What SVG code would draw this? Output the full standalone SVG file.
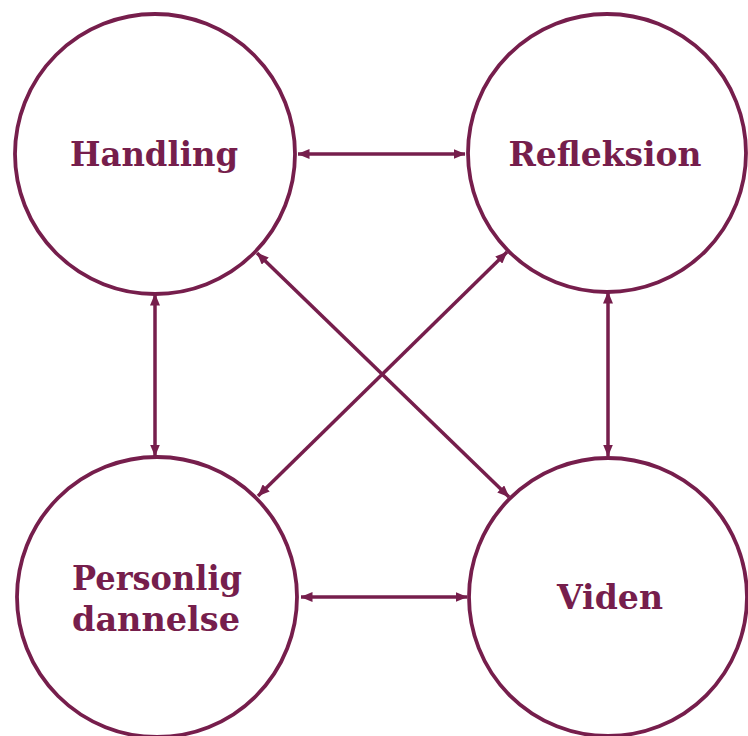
<svg xmlns="http://www.w3.org/2000/svg" width="748" height="736" viewBox="0 0 748 736">
<style>
.node{fill:#ffffff;stroke:#761e4c;stroke-width:3.8}
.lbl{font-family:"DejaVu Serif","Liberation Serif",serif;font-weight:bold;font-size:34px;fill:#761e4c;text-anchor:middle}
.con{stroke:#761e4c;stroke-width:3.5;fill:none;marker-start:url(#ah);marker-end:url(#ah)}
</style>
<defs>
<marker id="ah" viewBox="0 0 12 10" refX="11.5" refY="5" markerWidth="12" markerHeight="10" markerUnits="userSpaceOnUse" orient="auto-start-reverse">
<path d="M0,0 L12,5 L0,10 Z" fill="#761e4c"/>
</marker>
</defs>
<rect width="748" height="736" fill="#ffffff"/>
<g id="connectors">
<line class="con" x1="298" y1="154" x2="465" y2="154"/>
<line class="con" x1="301" y1="597" x2="467" y2="597"/>
<line class="con" x1="155" y1="294" x2="155" y2="456"/>
<line class="con" x1="608" y1="292" x2="608" y2="456"/>
<line class="con" x1="257" y1="253" x2="509" y2="497"/>
<line class="con" x1="507" y1="252" x2="258" y2="496"/>
</g>
<g id="handling">
<circle class="node" cx="155" cy="154" r="140"/>
<text class="lbl" x="154" y="166" textLength="168" lengthAdjust="spacingAndGlyphs">Handling</text>
</g>
<g id="refleksion">
<circle class="node" cx="607" cy="153" r="139"/>
<text class="lbl" x="605" y="166" textLength="193" lengthAdjust="spacingAndGlyphs">Refleksion</text>
</g>
<g id="personlig">
<circle class="node" cx="157" cy="597" r="140"/>
<text class="lbl" x="157" y="590" textLength="170" lengthAdjust="spacingAndGlyphs">Personlig</text>
<text class="lbl" x="156" y="631" textLength="168" lengthAdjust="spacingAndGlyphs">dannelse</text>
</g>
<g id="viden">
<circle class="node" cx="608" cy="597" r="139"/>
<text class="lbl" x="610" y="609" textLength="106" lengthAdjust="spacingAndGlyphs">Viden</text>
</g>
</svg>
